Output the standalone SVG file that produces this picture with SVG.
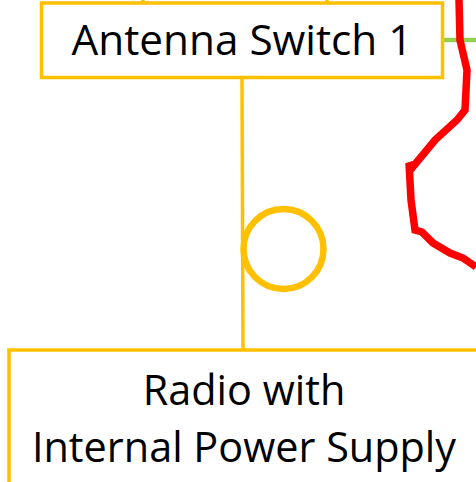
<svg xmlns="http://www.w3.org/2000/svg" width="476" height="482" viewBox="0 0 476 482">
<style>
.box{fill:#fff;stroke:#FFC000;stroke-width:3.5}
.lbl{font-family:"Open Sans","Liberation Sans",sans-serif;font-size:41.4px;fill:#000;text-anchor:middle}
.yl{stroke:#FFC000;stroke-width:3.5;fill:none}
</style>
<rect width="476" height="482" fill="#fff"/>
<g id="connectors">
<line class="yl" x1="143" y1="0" x2="143" y2="4"/>
<line class="yl" x1="327" y1="0" x2="327" y2="4"/>
<line class="yl" x1="242" y1="78" x2="243" y2="350"/>
<circle cx="283.5" cy="249" r="40" fill="none" stroke="#FFC000" stroke-width="6.5"/>
<line x1="443" y1="40" x2="476" y2="40" stroke="#92D050" stroke-width="4.5"/>
<path d="M459,0 L460,40 L467,70 L465,110 L457,120 L435,140 L412,168 L409,163 L411,200 L415,230 L422,232 L433,243 L450,253 L463,258 L476,267" fill="none" stroke="#FF0000" stroke-width="7.5" stroke-linejoin="miter"/>
</g>
<g id="antenna-switch-1">
<rect class="box" x="41.5" y="3" width="401" height="74.5"/>
<text class="lbl" x="242" y="55" style="font-size:42.3px">Antenna Switch 1</text>
</g>
<g id="radio">
<rect class="box" x="9" y="350" width="480" height="150"/>
<text class="lbl" x="244" y="405">Radio with</text>
<text class="lbl" x="244" y="462">Internal Power Supply</text>
</g>
</svg>
